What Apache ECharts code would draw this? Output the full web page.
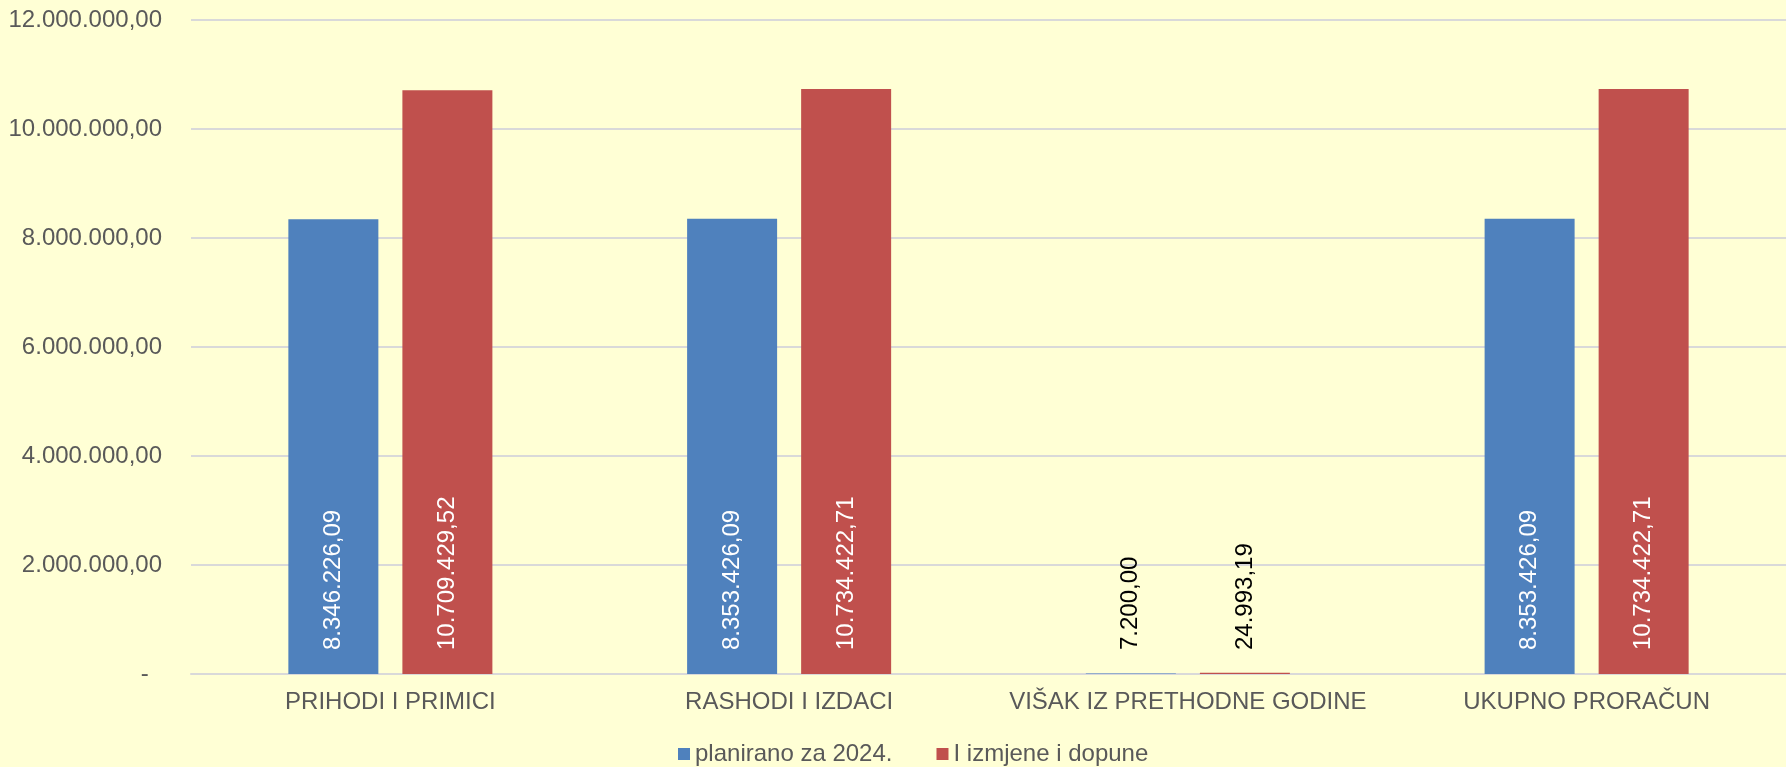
<!DOCTYPE html>
<html>
<head>
<meta charset="utf-8">
<script src="https://cdn.jsdelivr.net/npm/echarts@6/dist/echarts.min.js"></script>
<style>
html,body{margin:0;padding:0;background:#FFFFD5;}
#chart{width:1786px;height:767px;}
</style>
</head>
<body>
<div id="chart"></div>
<script>
const categories = ['PRIHODI I PRIMICI', 'RASHODI I IZDACI', 'VIŠAK IZ PRETHODNE GODINE', 'UKUPNO PRORAČUN'];
const seriesNames = ['planirano za 2024.', 'I izmjene i dopune'];
const planirano = [8346226.09, 8353426.09, 7200.00, 8353426.09];
const izmjene = [10709429.52, 10734422.71, 24993.19, 10734422.71];
const yTicks = [0, 2000000, 4000000, 6000000, 8000000, 10000000, 12000000];

function fmt(v) {
  const parts = Number(v).toFixed(2).split('.');
  const intPart = parts[0].replace(/\B(?=(\d{3})+(?!\d))/g, '.');
  return intPart + ',' + parts[1];
}

const FONT = "'Liberation Sans', Arial, sans-serif";
const SMALL = 100000;

function makeData(arr) {
  return arr.map(v => v < SMALL ? { value: v, label: { color: '#000000' } } : { value: v });
}

const chart = echarts.init(document.getElementById('chart'), null, { renderer: 'canvas' });
const labelCfg = {
  show: true,
  position: 'insideBottom',
  rotate: 90,
  align: 'left',
  verticalAlign: 'middle',
  distance: 24,
  color: '#FFFFFF',
  fontSize: 24,
  fontFamily: FONT,
  formatter: p => fmt(p.value)
};

chart.setOption({
  backgroundColor: '#FFFFD5',
  animation: false,
  textStyle: { fontFamily: FONT },
  grid: { left: 191, right: -16, top: 20, bottom: 93, containLabel: false },
  legend: {
    data: seriesNames,
    left: 678,
    top: 742,
    padding: 0,
    itemWidth: 12,
    itemHeight: 12,
    itemGap: 44,
    icon: 'rect',
    textStyle: { color: '#595959', fontSize: 24, fontFamily: FONT }
  },
  xAxis: {
    type: 'category',
    data: categories,
    axisLine: { show: true, lineStyle: { color: '#D9D9D9', width: 2 } },
    axisTick: { show: false },
    axisLabel: { color: '#595959', fontSize: 24, fontFamily: FONT, margin: 16, interval: 0 }
  },
  yAxis: {
    type: 'value',
    min: yTicks[0],
    max: yTicks[yTicks.length - 1],
    interval: yTicks[1] - yTicks[0],
    axisLine: { show: false },
    axisTick: { show: false },
    splitLine: { lineStyle: { color: '#D9D9D9', width: 2 } },
    axisLabel: {
      color: '#595959', fontSize: 24, fontFamily: FONT, margin: 29,
      formatter: v => v === 0 ? '-  ' : fmt(v)
    }
  },
  series: [
    {
      name: seriesNames[0],
      type: 'bar',
      data: makeData(planirano),
      barWidth: 90,
      barGap: '26.7%',
      itemStyle: { color: '#4F81BD' },
      label: labelCfg
    },
    {
      name: seriesNames[1],
      type: 'bar',
      data: makeData(izmjene),
      barWidth: 90,
      barGap: '26.7%',
      itemStyle: { color: '#C0504D' },
      label: labelCfg
    }
  ]
});
</script>
</body>
</html>
